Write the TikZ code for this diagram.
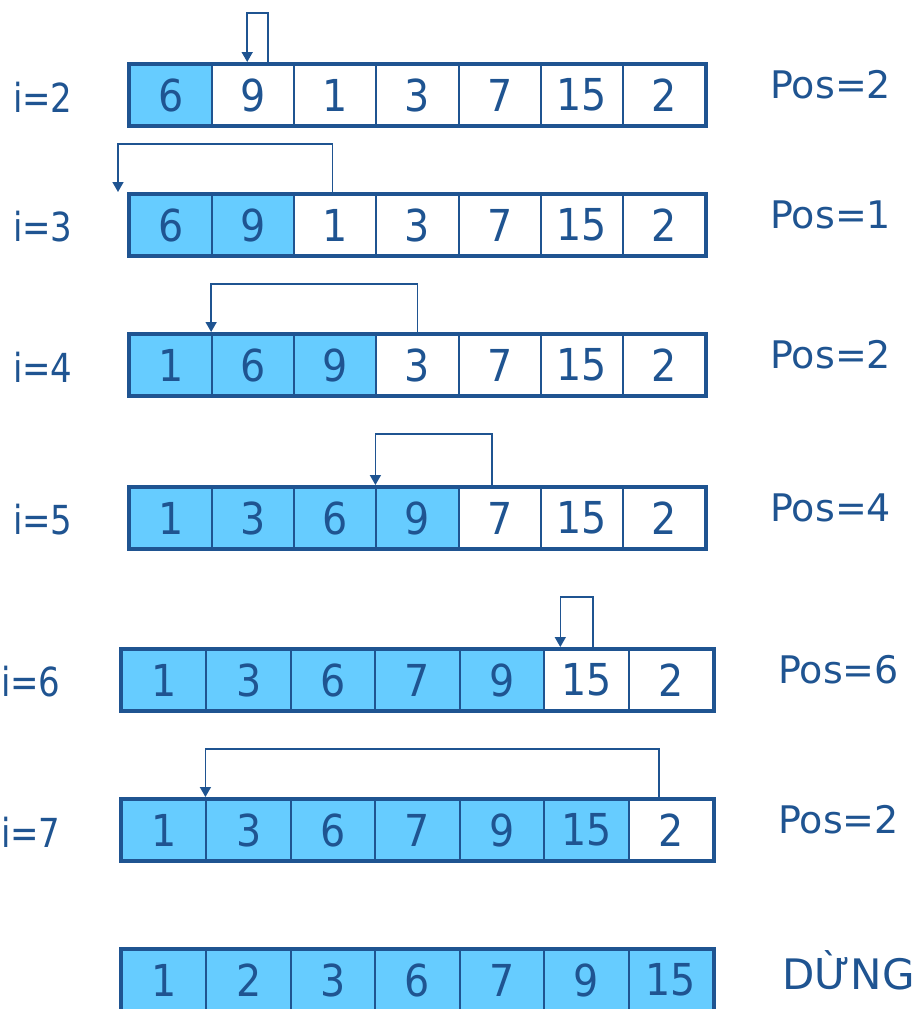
\documentclass[tikz,border=0pt]{standalone}
\usepackage{fontspec}
\setmainfont{DejaVu Sans}
\newfontfamily\cellfont[FakeStretch=0.9]{DejaVu Sans}
\newfontfamily\idxfont[FakeStretch=0.85]{DejaVu Sans}
\usetikzlibrary{arrows.meta,positioning}
\definecolor{arrblue}{RGB}{31,84,145}
\definecolor{sortfill}{RGB}{102,204,255}
\tikzset{
  cell/.style={draw=arrblue, line width=1pt, inner sep=0pt, minimum height=30pt, text=arrblue, font=\cellfont\fontsize{22}{26}\selectfont},
  sel0/.style={fill=sortfill},
  sel1/.style={fill=white},
  frame/.style={draw=arrblue, line width=2pt},
  lbl/.style={text=arrblue, inner sep=0pt, font=\fontsize{19}{23}\selectfont},
  idx/.style={lbl, font=\idxfont\fontsize{20}{24}\selectfont},
  move/.style={draw=arrblue, line width=0.8pt, shorten >=1pt, -{Triangle[length=5pt,width=5.5pt]}},
}
\begin{document}
\begin{tikzpicture}[x=0.5pt,y=-0.5pt]
\useasboundingbox (0,0) rectangle (920,1009);
% cac buoc sap xep
\foreach \r/\x/\y/\w/\k/\vals in {
  1/130/65/41.07/1/{6,9,1,3,7,15,2},
  2/130/195/41.07/2/{6,9,1,3,7,15,2},
  3/130/335/41.07/3/{1,6,9,3,7,15,2},
  4/130/488/41.07/4/{1,3,6,9,7,15,2},
  5/122/650/42.21/5/{1,3,6,7,9,15,2},
  6/122/800/42.21/6/{1,3,6,7,9,15,2},
  7/122/950/42.21/7/{1,2,3,6,7,9,15}}{
  \foreach \v [count=\j] in \vals {
    \pgfmathtruncatemacro\s{\j>\k}
    \node[cell, sel\s, minimum width=\w pt] (c\r-\j) at ({\x+(\j-0.5)*2*\w},{\y+30}) {\v};
  }
  \draw[frame] (c\r-1.north west) rectangle (c\r-7.south east);
}
% nhan i va Pos
\foreach \r/\n/\p/\g in {1/2/2/28,2/3/1/28,3/4/2/28,4/5/4/28,5/6/6/30,6/7/2/30}{
  \node[idx, left=\g pt of c\r-1, yshift=-1pt] (i\r) {i=\n};
  \node[lbl, right=32pt of c\r-7, yshift=5pt] (pos\r) {Pos=\p};
}
\node[lbl, font=\fontsize{21}{25}\selectfont, right=34pt of c7-7, yshift=5pt] (stop) {DỪNG};
% mui ten chen
\draw[move] ([xshift=7.5pt]c1-2.north) -- ++(0,-51) -| ([xshift=-3pt]c1-2.north);
\draw[move] ([xshift=-1.5pt]c2-3.north) -- ++(0,-50) -| ([xshift=-5.5pt]c2-1.north west);
\draw[move] (c3-4.north) -- ++(0,-50) -| (c3-2.north west);
\draw[move] ([xshift=-3.8pt]c4-5.north) -- ++(0,-53) -| (c4-4.north west);
\draw[move] ([xshift=3.3pt]c5-6.north) -- ++(0,-52) -| ([xshift=-13pt]c5-6.north);
\draw[move] ([xshift=-6pt]c6-7.north) -- ++(0,-50) -| (c6-2.north west);
\end{tikzpicture}
\end{document}
